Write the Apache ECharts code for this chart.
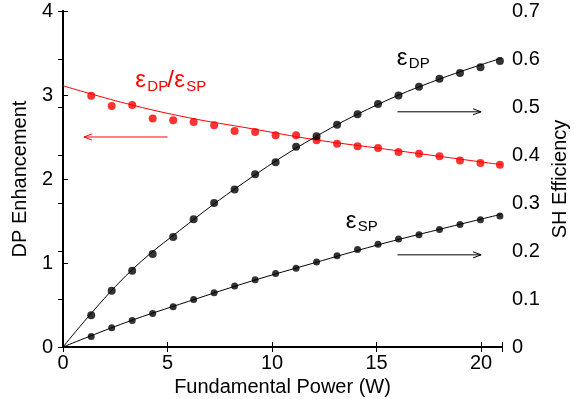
<!DOCTYPE html>
<html>
<head>
<meta charset="utf-8">
<script src="https://cdn.jsdelivr.net/npm/echarts@6/dist/echarts.min.js"></script>
<style>
  html, body { margin: 0; padding: 0; background: #fff; }
  #chart { width: 574px; height: 399px; }
</style>
</head>
<body>
<div id="chart"></div>
<script>
// Fundamental power (W) at which each measurement was taken
const powerW = [1.35, 2.33, 3.31, 4.29, 5.27, 6.25, 7.23, 8.21, 9.19, 10.17, 11.15,
                12.13, 13.11, 14.09, 15.07, 16.05, 17.03, 18.01, 18.99, 19.97, 20.9];
// Measured DP enhancement ratio eps_DP / eps_SP (left axis)
const ratioPts = [2.99, 2.87, 2.88, 2.72, 2.70, 2.68, 2.64, 2.57, 2.56, 2.52, 2.52,
                  2.46, 2.42, 2.39, 2.37, 2.32, 2.30, 2.27, 2.22, 2.19, 2.17];
// Measured SH efficiency, dual pass (right axis)
const dpPts = [0.066, 0.117, 0.159, 0.194, 0.229, 0.266, 0.300, 0.328, 0.360, 0.385, 0.417,
               0.439, 0.463, 0.485, 0.506, 0.524, 0.542, 0.559, 0.571, 0.583, 0.596];
// Measured SH efficiency, single pass (right axis)
const spPts = [0.022, 0.040, 0.055, 0.070, 0.084, 0.099, 0.113, 0.127, 0.140, 0.153, 0.164,
               0.177, 0.190, 0.203, 0.214, 0.225, 0.234, 0.245, 0.255, 0.265, 0.273];
// Model curves
const fitX = [0, 3, 6, 9, 12, 15, 18, 21];
const ratioFit = [3.11, 2.90, 2.73, 2.60, 2.47, 2.37, 2.27, 2.17];
const dpFit = [0, 0.148, 0.257, 0.353, 0.436, 0.504, 0.558, 0.602];
const spFit = [0, 0.051, 0.095, 0.137, 0.175, 0.212, 0.245, 0.277];
// Axis ticks
const xTicks = [0, 5, 10, 15, 20];
const leftTicks = [0, 1, 2, 3, 4];
const rightTicks = [0, 0.1, 0.2, 0.3, 0.4, 0.5, 0.6, 0.7];

const FONT = '"Liberation Sans", Arial, Helvetica, sans-serif';
const RED = '#ff0000';
const BLACK = '#000000';

const pair = (xs, ys) => xs.map((x, i) => [x, ys[i]]);

const chart = echarts.init(document.getElementById('chart'), null, { renderer: 'canvas' });

const axisCommon = {
  axisLine: { show: true, lineStyle: { color: BLACK, width: 2 } },
  axisTick: { show: true, inside: true, length: 5, lineStyle: { color: BLACK, width: 1 } },
  splitLine: { show: false },
  axisLabel: { color: BLACK, fontFamily: FONT, fontSize: 20 }
};
const nameStyle = { color: BLACK, fontFamily: FONT, fontSize: 20 };

chart.setOption({
  animation: false,
  backgroundColor: '#ffffff',
  grid: { left: 63, right: 72, top: 11, bottom: 52, containLabel: false, outerBoundsMode: 'none' },
  xAxis: [
    Object.assign({}, axisCommon, {
      type: 'value', min: 0, max: xTicks[xTicks.length - 1] + 1, interval: 5,
      position: 'bottom',
      axisLabel: Object.assign({}, axisCommon.axisLabel, {
        margin: 6,
        formatter: v => (xTicks.indexOf(v) >= 0 ? String(v) : '')
      }),
      name: 'Fundamental Power (W)', nameLocation: 'middle', nameGap: 24,
      nameTextStyle: nameStyle
    }),
    Object.assign({}, axisCommon, {
      type: 'value', min: 0, max: 21, interval: 5, position: 'top',
      axisLabel: { show: false }
    })
  ],
  yAxis: [
    Object.assign({}, axisCommon, {
      type: 'value', min: leftTicks[0], max: leftTicks[leftTicks.length - 1], interval: 1,
      position: 'left',
      axisLabel: Object.assign({}, axisCommon.axisLabel, { margin: 10 }),
      name: 'DP Enhancement', nameLocation: 'middle', nameGap: 29, nameRotate: 90,
      nameTextStyle: nameStyle
    }),
    Object.assign({}, axisCommon, {
      type: 'value', min: rightTicks[0], max: rightTicks[rightTicks.length - 1], interval: 0.1,
      position: 'right',
      axisLabel: Object.assign({}, axisCommon.axisLabel, {
        margin: 10,
        formatter: v => String(Math.round(v * 10) / 10)
      }),
      name: 'SH Efficiency', nameLocation: 'middle', nameGap: 47, nameRotate: 90,
      nameTextStyle: nameStyle
    })
  ],
  series: [
    {
      name: 'ratio fit', type: 'line', xAxisIndex: 0, yAxisIndex: 0,
      data: pair(fitX, ratioFit), smooth: 0.4, showSymbol: false,
      lineStyle: { color: RED, width: 1 }, z: 2
    },
    {
      name: 'ratio', type: 'scatter', xAxisIndex: 0, yAxisIndex: 0,
      data: pair(powerW, ratioPts), symbol: 'circle', symbolSize: 8,
      itemStyle: { color: RED }, z: 3
    },
    {
      name: 'DP fit', type: 'line', xAxisIndex: 0, yAxisIndex: 1,
      data: pair(fitX, dpFit), smooth: 0.4, showSymbol: false,
      lineStyle: { color: BLACK, width: 1 }, z: 2
    },
    {
      name: 'DP', type: 'scatter', xAxisIndex: 0, yAxisIndex: 1,
      data: pair(powerW, dpPts), symbol: 'circle', symbolSize: 8,
      itemStyle: { color: BLACK }, z: 3
    },
    {
      name: 'SP fit', type: 'line', xAxisIndex: 0, yAxisIndex: 1,
      data: pair(fitX, spFit), smooth: 0.4, showSymbol: false,
      lineStyle: { color: BLACK, width: 1 }, z: 2
    },
    {
      name: 'SP', type: 'scatter', xAxisIndex: 0, yAxisIndex: 1,
      data: pair(powerW, spPts), symbol: 'circle', symbolSize: 7,
      itemStyle: { color: BLACK }, z: 3
    }
  ]
});

// Annotations: curve labels and arrows pointing at the axis each curve uses
const toPx = (yAxisIndex, pt) => chart.convertToPixel({ xAxisIndex: 0, yAxisIndex: yAxisIndex }, pt);

function arrow(yAxisIndex, from, to, color) {
  const a = toPx(yAxisIndex, from);
  const b = toPx(yAxisIndex, to);
  const dir = Math.sign(b[0] - a[0]);
  const head = 8, half = 3;
  return [
    { type: 'line', shape: { x1: a[0], y1: a[1], x2: b[0], y2: b[1] },
      style: { stroke: color, lineWidth: 1 }, z: 10 },
    { type: 'polyline',
      shape: { points: [[b[0] - dir * head, b[1] - half], [b[0], b[1]], [b[0] - dir * head, b[1] + half]] },
      style: { stroke: color, lineWidth: 1, fill: null }, z: 10 }
  ];
}

function epsLabel(yAxisIndex, anchor, parts, color) {
  const p = toPx(yAxisIndex, anchor);
  let x = p[0];
  const els = [];
  parts.forEach(part => {
    const big = part.sub === false;
    const size = big ? 24 : 15;
    els.push({
      type: 'text', x: x, y: p[1] + (big ? 0 : 6), z: 10,
      style: {
        text: part.t, fill: color, fontFamily: FONT, fontSize: size,
        align: 'left', verticalAlign: 'middle'
      }
    });
    x += part.w;
  });
  return els;
}

const graphics = [].concat(
  arrow(0, [5, 2.5], [1, 2.5], RED),
  arrow(1, [16, 0.49], [20, 0.49], BLACK),
  arrow(1, [16, 0.192], [20, 0.192], BLACK),
  epsLabel(0, [3.46, 3.17], [
    { t: 'ε', sub: false, w: 12 }, { t: 'DP', sub: true, w: 20 },
    { t: '/', sub: false, w: 7 }, { t: 'ε', sub: false, w: 12 }, { t: 'SP', sub: true, w: 20 }
  ], RED),
  epsLabel(1, [15.97, 0.602], [
    { t: 'ε', sub: false, w: 12 }, { t: 'DP', sub: true, w: 20 }
  ], BLACK),
  epsLabel(1, [13.53, 0.262], [
    { t: 'ε', sub: false, w: 12 }, { t: 'SP', sub: true, w: 20 }
  ], BLACK)
);

chart.setOption({ graphic: graphics });
</script>
</body>
</html>
